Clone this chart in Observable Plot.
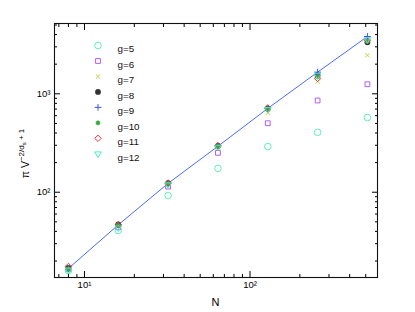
<!DOCTYPE html>
<html><head><meta charset="utf-8">
<script src="https://cdn.jsdelivr.net/npm/d3@7"></script>
<script src="https://cdn.jsdelivr.net/npm/@observablehq/plot@0.6"></script>
<style>body{margin:0;background:#fff;}</style>
</head><body><div id="chart"></div>
<script>
// ---- data ----
const N = [8, 16, 32, 64, 128, 256, 512];
const g5  = [16.0, 40.8, 92.6, 175, 291, 406, 574];
const g6  = [16.5, 44.0, 114, 251, 502, 855, 1250];
const g7  = [16.6, 45.5, 120, 285, 641, 1334, 2465];
const g8  = [17.0, 47.0, 124, 295, 705, 1530, 3340];
const g9  = [16.8, 46.6, 123, 293, 710, 1660, 3820];
const g10 = [16.7, 46.0, 122, 290, 700, 1490, 3400];
const g11 = [17.6, 46.5, 124, 298, 720, 1430, 3500];
const g12 = [16.2, 43.5, 119, 288, 695, 1530, 3560];
const fitLine = [16.8, 46.6, 123, 293, 710, 1660, 3820];
const seriesNames = ["g=5", "g=6", "g=7", "g=8", "g=9", "g=10", "g=11", "g=12"];
const xMajorTicks = [10, 100];
const xMinorTicks = [7, 8, 9, 20, 30, 40, 50, 60, 70, 80, 90, 200, 300, 400, 500];
const yMajorTicks = [100, 1000];
const yMinorTicks = [20, 30, 40, 50, 60, 70, 80, 90, 200, 300, 400, 500, 600, 700, 800, 900, 2000, 3000, 4000, 5000];

// ---- styles ----
const seriesValues = [g5, g6, g7, g8, g9, g10, g11, g12];
const styles = [
  {symbol: "circle",   stroke: "#5ef0b4", fill: "none", rotate: 0, r: 3.3, sw: 1},
  {symbol: "square",   stroke: "#b35cf2", fill: "none", rotate: 0, r: 2.7, sw: 1},
  {symbol: "times",    stroke: "#c4d03c", fill: "none", rotate: 0, r: 2.1, sw: 1},
  {symbol: "circle",   stroke: "none",    fill: "#333333", rotate: 0, r: 2.9, sw: 1},
  {symbol: "plus",     stroke: "#3a55f5", fill: "none", rotate: 0, r: 2.3, sw: 1},
  {symbol: "asterisk", stroke: "#2fae3a", fill: "none", rotate: 0, r: 2.3, sw: 1.6},
  {symbol: "diamond2", stroke: "#f23535", fill: "none", rotate: 0, r: 2.9, sw: 1},
  {symbol: "triangle", stroke: "#45eec6", fill: "none", rotate: 180, r: 2.4, sw: 1}
];

const sup = {1: "\u00b9", 2: "\u00b2", 3: "\u00b3"};
const fmt = d => "10" + sup[Math.round(Math.log10(d))];
const blank = () => "";

const marks = [];
marks.push(Plot.line(N.map((n, i) => ({N: n, v: fitLine[i]})), {x: "N", y: "v", stroke: "#4a6cf7", strokeWidth: 1}));
seriesValues.forEach((vals, k) => {
  const s = styles[k];
  marks.push(Plot.dot(N.map((n, i) => ({N: n, v: vals[i]})), {
    x: "N", y: "v", r: s.r, symbol: s.symbol, stroke: s.stroke, fill: s.fill,
    rotate: s.rotate, strokeWidth: s.sw
  }));
  // legend entry
  marks.push(Plot.dot([seriesNames[k]], {
    frameAnchor: "top-left", dx: 43.5, dy: 22 + k * 15.47, r: s.r,
    symbol: s.symbol, stroke: s.stroke, fill: s.fill, rotate: s.rotate,
    strokeWidth: s.sw
  }));
  marks.push(Plot.text([seriesNames[k]], {
    frameAnchor: "top-left", dx: 63, dy: 22 + k * 15.47, text: d => d,
    textAnchor: "start", fontSize: 9.8, fill: "#111"
  }));
});

// axes with inward ticks on all four sides
marks.push(Plot.axisX(xMajorTicks, {anchor: "bottom", tickSize: -6, tickPadding: 10, tickFormat: fmt, fontSize: 9.5}));
marks.push(Plot.axisX(xMinorTicks, {anchor: "bottom", tickSize: -3, tickFormat: blank}));
marks.push(Plot.axisX(xMajorTicks, {anchor: "top", tickSize: -6, tickFormat: blank}));
marks.push(Plot.axisX(xMinorTicks, {anchor: "top", tickSize: -3, tickFormat: blank}));
marks.push(Plot.axisY(yMajorTicks, {anchor: "left", tickSize: -6, tickPadding: 10, tickFormat: fmt, fontSize: 9.5}));
marks.push(Plot.axisY(yMinorTicks, {anchor: "left", tickSize: -3, tickFormat: blank}));
marks.push(Plot.axisY(yMajorTicks, {anchor: "right", tickSize: -6, tickFormat: blank}));
marks.push(Plot.axisY(yMinorTicks, {anchor: "right", tickSize: -3, tickFormat: blank}));
marks.push(Plot.frame({stroke: "#111", strokeWidth: 1.1}));

const chart = Plot.plot({
  width: 415, height: 312,
  marginLeft: 54, marginRight: 38, marginTop: 23, marginBottom: 35,
  x: {type: "log", domain: [6.59, 589], label: null},
  y: {type: "log", domain: [13.6, 5180], label: null},
  style: {fontFamily: "'Liberation Sans', Arial, sans-serif", fontSize: "9.5px", background: "white", color: "black"},
  marks
});
document.getElementById("chart").appendChild(chart);

const svg = d3.select(chart);
svg.append("text")
  .attr("x", 215.5).attr("y", 306)
  .attr("text-anchor", "middle")
  .attr("font-family", "'Liberation Sans', Arial, sans-serif")
  .attr("font-size", 11).attr("fill", "black")
  .text("N");
const yl = svg.append("text")
  .attr("transform", "translate(28.5,153.5) rotate(-90)")
  .attr("text-anchor", "middle")
  .attr("font-family", "'Liberation Sans', Arial, sans-serif")
  .attr("font-size", 10.5).attr("fill", "black");
yl.append("tspan").text("\u03c0 V");
yl.append("tspan").attr("dy", -5).attr("font-size", 8).text("\u22122/d");
yl.append("tspan").attr("dy", 2.5).attr("font-size", 6).text("s");
yl.append("tspan").attr("dy", -2.5).attr("font-size", 8).text(" + 1");
</script>
</body></html>
